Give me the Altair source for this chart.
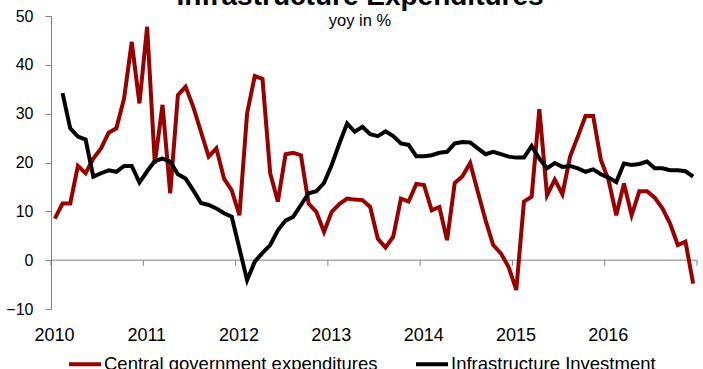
import altair as alt
import pandas as pd

# ---------------- data (yoy in %, monthly Jan 2010 - Dec 2016) ----------------
series_names = ["Central government expenditures", "Infrastructure Investment"]
series_colors = ["#990000", "#000000"]
year_ticks = [2010, 2011, 2012, 2013, 2014, 2015, 2016, 2017]
year_labels = [2010, 2011, 2012, 2013, 2014, 2015, 2016]

central_gov = [
    8.5, 11.6, 11.6, 19.3, 17.8, 20.8, 22.9, 26.1, 27.0, 33.1, 44.7, 32.1,
    47.8, 19.8, 31.8, 13.7, 33.8, 35.5, 31.4, 26.3, 21.2, 22.9, 16.7, 14.3,
    9.2, 30.1, 37.7, 37.1, 17.8, 12.0, 21.7, 22.0, 21.5, 11.6, 9.9, 5.8,
    9.9, 11.5, 12.6, 12.4, 12.3, 10.9, 4.4, 2.6, 4.8, 12.6, 12.0, 15.6,
    15.4, 10.2, 10.9, 4.1, 15.8, 17.2, 19.9, 14.0, 8.2, 3.1, 1.4, -1.4,
    -6.1, 12.0, 13.0, 30.9, 13.3, 16.5, 13.5, 21.2, 25.3, 29.5, 29.5, 20.5,
    16.4, 9.2, 15.7, 9.2, 14.1, 14.1, 12.8, 10.6, 7.5, 3.1, 3.8, -4.8,
]
infra_inv = [
    None, 34.2, 27.0, 25.3, 24.7, 17.1, 17.8, 18.4, 18.1, 19.3, 19.3, 15.9,
    18.2, 20.3, 20.8, 20.2, 17.6, 16.7, 14.3, 11.7, 11.3, 10.6, 9.6, 8.9,
    2.4, -4.1, -0.3, 1.5, 3.1, 6.1, 8.1, 8.9, 11.3, 13.7, 14.1, 15.8,
    19.5, 23.9, 28.0, 26.3, 27.3, 25.8, 25.4, 26.4, 25.4, 23.9, 23.6, 21.3,
    21.3, 21.5, 22.0, 22.2, 23.9, 24.2, 24.1, 22.9, 21.7, 22.2, 21.7, 21.2,
    21.0, 21.0, 23.4, 20.8, 18.8, 19.9, 19.1, 19.3, 18.8, 18.1, 18.6, 17.6,
    16.9, 16.0, 19.8, 19.5, 19.7, 20.2, 18.8, 18.8, 18.4, 18.4, 18.2, 17.1,
]

rows = []
for i in range(len(central_gov)):
    t = 2010 + (i + 0.5) / 12
    rows.append({"t": t, "value": central_gov[i], "series": series_names[0]})
    if infra_inv[i] is not None:
        rows.append({"t": t, "value": infra_inv[i], "series": series_names[1]})
df = pd.DataFrame(rows)

FONT = "Liberation Sans"
GRAY = "#808080"

x_scale = alt.Scale(domain=[2010, 2017], nice=False, zero=False)
y_scale = alt.Scale(domain=[-10, 50], nice=False, zero=False)

color = alt.Color(
    "series:N",
    scale=alt.Scale(domain=series_names, range=series_colors),
    legend=alt.Legend(
        title=None,
        orient="none",
        legendX=16,
        legendY=330,
        direction="horizontal",
        symbolType="stroke",
        symbolSize=1024,
        symbolStrokeWidth=4,
        labelFontSize=18.5,
        labelFont=FONT,
        labelColor="#000000",
        labelOffset=1,
        labelLimit=400,
        columnPadding=30,
    ),
)

x_enc = alt.X(
    "t:Q",
    scale=x_scale,
    axis=alt.Axis(
        values=year_labels,
        format="d",
        domain=False,
        ticks=False,
        tickSize=0,
        grid=False,
        labelFontSize=18,
        labelFont=FONT,
        labelColor="#000000",
        labelPadding=17,
        labelOffset=3,
        labelFlush=False,
        labelOverlap=False,
        title=None,
    ),
)
y_enc = alt.Y(
    "value:Q",
    scale=y_scale,
    axis=alt.Axis(
        values=[-10, 0, 10, 20, 30, 40, 50],
        domainColor=GRAY,
        tickColor=GRAY,
        tickSize=6,
        grid=False,
        labelFontSize=16,
        labelFont=FONT,
        labelColor="#000000",
        labelPadding=12,
        title=None,
    ),
)

zero_line = alt.Chart(pd.DataFrame({"z": [0]})).mark_rule(color=GRAY, strokeWidth=1).encode(
    y=alt.Y("z:Q", scale=y_scale)
)
year_tick_marks = alt.Chart(pd.DataFrame({"yr": year_ticks})).mark_rule(
    color=GRAY, strokeWidth=1
).encode(
    x=alt.X("yr:Q", scale=x_scale),
    y=alt.datum(0),
    y2=alt.datum(-1.15),
)

base = alt.Chart(df).mark_line(strokeWidth=4, strokeJoin="miter", strokeMiterLimit=4).encode(
    x=x_enc, y=y_enc, color=color
)
red_line = base.transform_filter(alt.datum.series == series_names[0])
black_line = base.transform_filter(alt.datum.series == series_names[1])

chart = alt.layer(zero_line, year_tick_marks, red_line, black_line).properties(
    width=646,
    height=293,
    autosize=alt.AutoSizeParams(type="none"),
    padding={"left": 51, "top": 16, "right": 6, "bottom": 60},
    title=alt.TitleParams(
        text="Infrastructure Expenditures",
        subtitle="yoy in %",
        font=FONT,
        fontSize=28,
        fontWeight="bold",
        color="#000000",
        subtitleFont=FONT,
        subtitleFontSize=16.5,
        subtitleColor="#000000",
        subtitlePadding=2,
        anchor="middle",
        dx=-14,
        offset=-21,
    ),
).configure_view(stroke=None)

chart.save("out.html", embed_options={"renderer": "svg", "actions": False})
